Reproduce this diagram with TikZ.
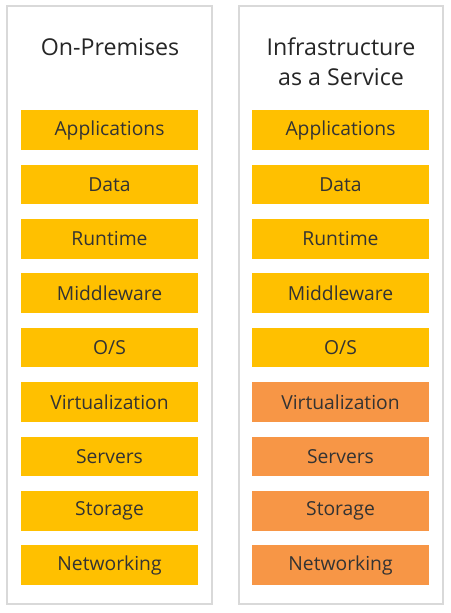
\documentclass[tikz,border=0pt]{standalone}
\usepackage{fontspec}
\setmainfont{Open Sans}
\definecolor{panelline}{HTML}{D9D9D9}
\definecolor{layeryellow}{HTML}{FFC000}
\definecolor{layerorange}{HTML}{F79646}
\definecolor{layertext}{HTML}{333333}
\definecolor{titletext}{HTML}{262626}
\begin{document}
\begin{tikzpicture}[x=1pt,y=-1pt,
  panel/.style={draw=panelline,line width=1.8pt,fill=white},
  layer/.style={minimum width=177pt,minimum height=39.5pt,inner sep=0pt,
    text=layertext,font=\fontsize{19.3}{22}\selectfont},
  own/.style={layer,fill=layeryellow},
  vendor/.style={layer,fill=layerorange},
  title/.style={text=titletext,align=center,font=\fontsize{23.2}{30}\selectfont}]
\useasboundingbox[fill=white] (0,0) rectangle (450,613);
% two stacks
\draw[panel] (7,6) rectangle (212,604);
\draw[panel] (239,6) rectangle (443,604);
\node[title] (t1) at (110,47) {On-Premises};
\node[title] (t2) at (341,62) {Infrastructure\\as a Service};
% layers, top to bottom
\foreach \name [count=\i from 0] in {Applications,Data,Runtime,Middleware,O/S,Virtualization,Servers,Storage,Networking}{
  \node[own] (l\i) at (109.5,130+54.4*\i) {\name};
}
\foreach \name [count=\i from 0] in {Applications,Data,Runtime,Middleware,O/S}{
  \node[own] (r\i) at (340.5,130+54.4*\i) {\name};
}
\foreach \name [count=\i from 5] in {Virtualization,Servers,Storage,Networking}{
  \node[vendor] (r\i) at (340.5,130+54.4*\i) {\name};
}
\end{tikzpicture}
\end{document}
